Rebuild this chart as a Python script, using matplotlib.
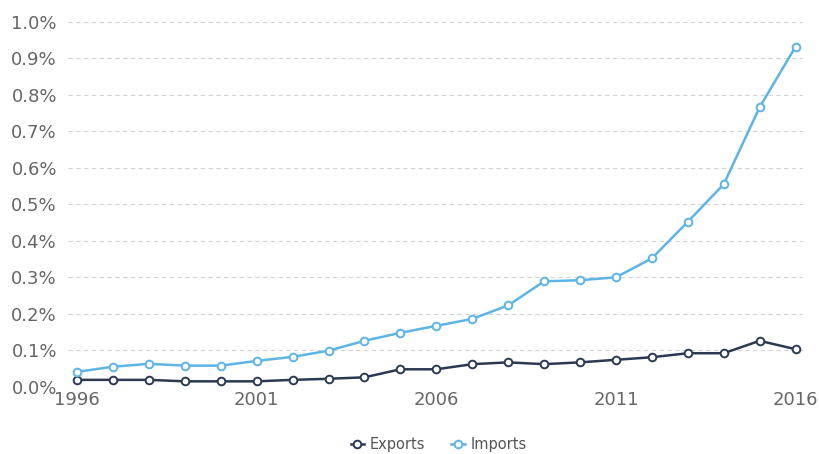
import numpy as np
import matplotlib.pyplot as plt
from matplotlib.ticker import FuncFormatter

years = list(range(1996, 2017))
exports = [0.019, 0.019, 0.019, 0.015, 0.015, 0.015, 0.019, 0.022, 0.026, 0.048,
           0.048, 0.062, 0.067, 0.062, 0.067, 0.074, 0.081, 0.092, 0.092, 0.126, 0.103]
imports = [0.041, 0.055, 0.063, 0.058, 0.058, 0.071, 0.082, 0.099, 0.126, 0.148,
           0.167, 0.186, 0.223, 0.289, 0.292, 0.300, 0.352, 0.452, 0.555, 0.766, 0.932]

exp_color = '#2b3a52'
imp_color = '#5db4e6'

fig = plt.figure(figsize=(8.2, 4.54), dpi=100)
ax = fig.add_axes([0.083, 0.148, 0.896, 0.804])

ax.plot(years, exports, '-o', color=exp_color, lw=1.8, ms=5.5,
        mfc='white', mec=exp_color, mew=1.4, label='Exports', zorder=3)
ax.plot(years, imports, '-o', color=imp_color, lw=1.8, ms=5.5,
        mfc='white', mec=imp_color, mew=1.4, label='Imports', zorder=3)

ax.set_xlim(1995.75, 2016.2)
ax.set_ylim(0, 1.0)
ax.set_yticks(np.arange(0, 1.01, 0.1))
ax.yaxis.set_major_formatter(FuncFormatter(lambda v, p: f'{v:.1f}%'))
ax.set_xticks([1996, 2001, 2006, 2011, 2016])

ax.grid(axis='y', color='#d3d3d3', ls=(0, (4, 3)), lw=0.8)
ax.set_axisbelow(True)
for s in ax.spines.values():
    s.set_visible(False)
ax.tick_params(length=0, labelsize=13, colors='#666666')
ax.tick_params(axis='y', pad=8)
ax.tick_params(axis='x', pad=3)

fig.legend(loc='lower center', ncol=2, frameon=False, fontsize=10.5,
           labelcolor='#555555', bbox_to_anchor=(0.535, -0.025),
           handlelength=0.9, columnspacing=1.8, handletextpad=0.4)

fig.savefig('out.png', dpi=100)
